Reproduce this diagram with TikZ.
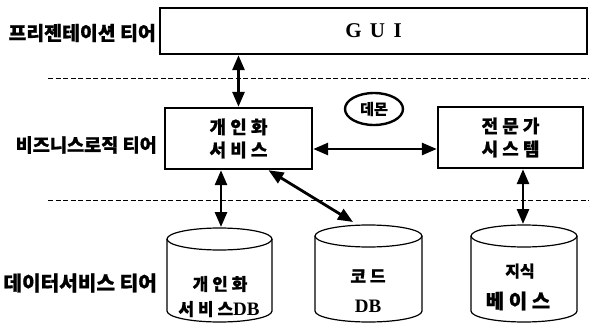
\documentclass[tikz,border=0pt]{standalone}
\usepackage{fontspec}
\setmainfont{Liberation Serif}
\newfontfamily\kr{Noto Sans CJK KR}[BoldFeatures={FakeBold=0.8}]
\usetikzlibrary{arrows.meta,shapes.geometric}
\newcommand\krf[1]{\kr\bfseries\fontsize{#1}{#1}\selectfont}
\newcommand\serf[1]{\rmfamily\bfseries\fontsize{#1}{#1}\selectfont}
\newcommand\mycyl[3]{%
  \pgfmathsetmacro\cx{(#1+#2)/2}%
  \pgfmathsetmacro\rx{(#2-#1)/2}%
  \draw[cylline] (#1,#3+11) -- (#1,311) arc[start angle=180,end angle=0,x radius=\rx,y radius=11] -- (#2,#3+11);
  \draw[cylline] (\cx,#3+11) ellipse[x radius=\rx,y radius=11];}
\begin{document}
\begin{tikzpicture}[x=1pt,y=-1pt,
  box/.style={draw,line width=2.4pt,minimum width=147pt,minimum height=61pt,inner sep=0pt,align=center},
  tier/.style={anchor=east,inner sep=0pt},
  arr/.style={line width=2.8pt,{Triangle[length=15pt,width=12pt]}-{Triangle[length=15pt,width=12pt]}},
  sep/.style={line width=0.9pt,dash pattern=on 5pt off 2.5pt},
  cylline/.style={line width=1.2pt},
  ctext/.style={inner sep=0pt}]
\fill[white] (0,0) rectangle (589,324);
\useasboundingbox (0,0) rectangle (589,324);

% separators
\draw[sep] (48,78) -- (589,78);
\draw[sep] (48,200) -- (589,200);

% tier labels
\node[tier,font=\krf{19.4}] (t1) at (156,33) {프리젠테이션 티어};
\node[tier,font=\krf{18.6}] (t2) at (157,145) {비즈니스로직 티어};
\node[tier,font=\krf{20.2}] (t3) at (157,283) {데이터서비스 티어};

% GUI
\node[draw,line width=2.4pt,minimum width=427pt,minimum height=46pt,inner sep=0pt,font=\serf{21}] (gui) at (373.5,31) {G\hspace{0.4em}U\hspace{0.4em}I};

% business boxes
\node[box,font=\krf{18}] (pers) at (238.5,138.5) {개 인 화\\[5pt]서 비 스};
\node[box,minimum width=145pt,font=\krf{18}] (exp) at (510.5,137.5) {전 문 가\\[5pt]시 스 템};
\node[draw,ellipse,line width=2.4pt,minimum width=58pt,minimum height=32pt,inner sep=0pt,font=\krf{15}] (daemon) at (374,109) {데몬};

% cylinders
\mycyl{167}{272}{228}
\mycyl{315}{422}{225}
\mycyl{471}{577}{225}
\coordinate (db1top) at (221,227);
\coordinate (db2tip) at (353,222);
\coordinate (db3top) at (523,224);

\node[ctext,font=\krf{17}] (c1a) at (220,284) {개 인 화};
\node[ctext] (c1b) at (219,309) {\krf{17}서 비 스\serf{19}DB};
\node[ctext,font=\krf{17}] (c2a) at (368,276) {코 드};
\node[ctext,font=\serf{19}] (c2b) at (368,306) {DB};
\node[ctext,font=\krf{16}] (c3a) at (520,271) {지식};
\node[ctext,font=\krf{20}] (c3b) at (518,301) {베 이 스};

% connectors
\draw[arr] (gui.south -| pers.north) -- (pers.north);
\draw[arr] ([yshift=-10.5pt]pers.east) -- ([yshift=-10.5pt]pers.east -| exp.west);
\draw[arr] ([xshift=-17.5pt]pers.south) -- (db1top);
\draw[arr] ([xshift=30pt]pers.south) -- (db2tip);
\draw[arr] ([xshift=12.5pt]exp.south) -- (db3top);
\end{tikzpicture}
\end{document}
